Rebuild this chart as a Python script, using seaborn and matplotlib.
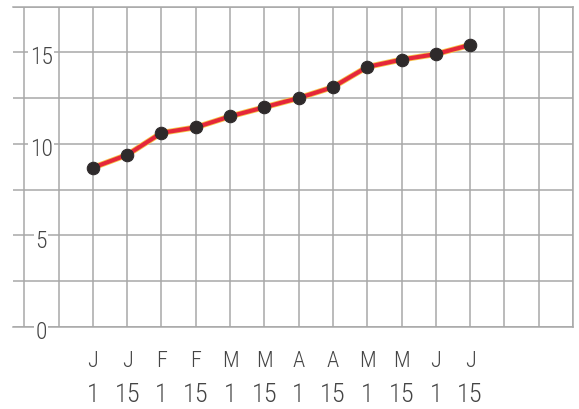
"""Line chart of a half-year growth record (Jan 1 .. Jun 15)."""

import pandas as pd
import matplotlib
matplotlib.use('Agg')
import matplotlib.pyplot as plt
from matplotlib import font_manager
import seaborn as sns

months = ['J', 'J', 'F', 'F', 'M', 'M', 'A', 'A', 'M', 'M', 'J', 'J']
days = ['1', '15', '1', '15', '1', '15', '1', '15', '1', '15', '1', '15']
values = [8.7, 9.4, 10.6, 10.9, 11.5, 12.0, 12.5, 13.1, 14.2, 14.6, 14.9, 15.4]
y_labels = [0, 5, 10, 15]

GRID = '#a8a8a8'
TEXT = '#454545'


def pick_font():
   names = {f.name for f in font_manager.fontManager.ttflist}
   for name in ['Liberation Sans Narrow', 'Roboto Condensed', 'Liberation Sans']:
      if name in names:
         return name
   return 'DejaVu Sans'


def plot(df):
   sns.set_style('white')
   plt.rcParams['font.family'] = [pick_font(), 'DejaVu Sans']

   fig = plt.figure(figsize=(5.79, 4.10), dpi=100)
   ax = fig.add_axes([13 / 579, 82 / 410, 560 / 579, 320.5 / 410])

   # yellow glow under the red line, as in the printed chart
   sns.lineplot(data=df, x='pos', y='value', ax=ax, color='#f6c74a',
                linewidth=4.2, zorder=3)
   sns.lineplot(data=df, x='pos', y='value', ax=ax, color='#e5273a',
                linewidth=3.0, marker='o', markersize=9,
                markerfacecolor='#2e2a2b', markeredgecolor='#2e2a2b', zorder=4)

   ax.set_xlim(-2.33, 14)
   ax.set_ylim(0, 17.5)
   ax.set_xticks(range(-2, 15))
   ax.set_yticks([i * 2.5 for i in range(8)])
   ax.set_xticklabels([])
   ax.set_yticklabels([])
   ax.tick_params(length=0)
   ax.grid(True, color=GRID, linewidth=1.1)
   ax.set_axisbelow(True)
   ax.set_xlabel('')
   ax.set_ylabel('')

   for side in ['top', 'right', 'bottom']:
      ax.spines[side].set_color(GRID)
      ax.spines[side].set_linewidth(1.1)
   ax.spines['left'].set_visible(False)

   tx = ax.get_xaxis_transform()
   for i, (m, d) in enumerate(zip(months, days)):
      ax.text(i, -0.105, m, transform=tx, ha='center', va='center',
              fontsize=16, fontweight='light', color=TEXT)
      ax.text(i, -0.21, d, transform=tx, ha='center', va='center',
              fontsize=19, fontweight='light', color=TEXT)

   for v in y_labels:
      ax.text(-1.51, v - 0.25, str(v), ha='center', va='center', fontsize=17,
              fontweight='light', color=TEXT, clip_on=False, zorder=5,
              bbox=dict(facecolor='white', edgecolor='none', pad=1.0))

   fig.savefig('out.png', dpi=100)
   plt.close(fig)


def main():
   df = pd.DataFrame({'pos': range(len(values)), 'value': values})
   plot(df)


if __name__ == '__main__':
   main()
